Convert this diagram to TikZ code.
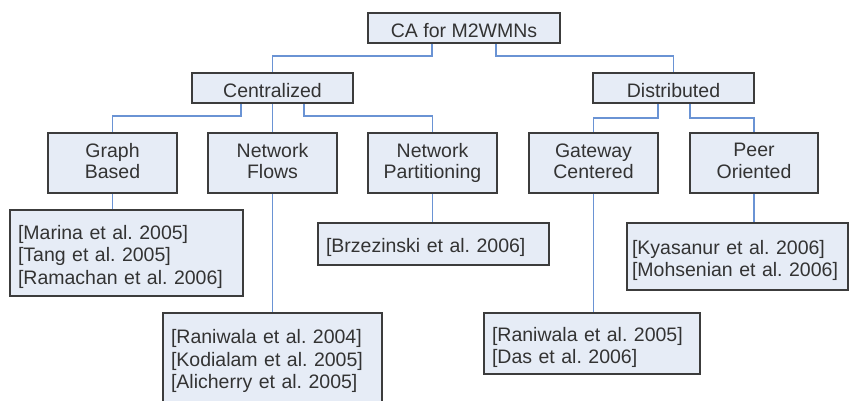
\documentclass[tikz,border=0pt]{standalone}
\usepackage{fontspec}
\setmainfont{Liberation Sans}
\frenchspacing
\definecolor{boxfill}{HTML}{E6ECF6}
\definecolor{boxline}{HTML}{3C3C3C}
\definecolor{linkblue}{HTML}{6A93D4}
\definecolor{txt}{HTML}{333333}
% struts that set the vertical placement of text inside each box
\newcommand{\topstrut}{\rule{0pt}{22pt}}
\newcommand{\botstrut}{\rule[-4pt]{0pt}{4pt}}
\begin{document}
\begin{tikzpicture}[x=1pt,y=-1pt,
  box/.style={draw=boxline, line width=2pt, fill=boxfill, text=txt,
    inner sep=0pt, align=center,
    execute at begin node={\topstrut}, execute at end node={\botstrut},
    font=\fontsize{19.5}{21.5}\selectfont\frenchspacing},
  refbox/.style={box, align=left, inner xsep=8pt,
    font=\fontsize{19.5}{22.5}\selectfont\frenchspacing},
  link/.style={draw=linkblue, line width=1.6pt}]
\useasboundingbox (0,0) rectangle (849,400);

% classification levels
\node[box, minimum width=192pt, minimum height=30pt] (root) at (464,28) {CA for M2WMNs};
\node[box, minimum width=161pt, minimum height=30pt] (cent) at (272.5,88) {Centralized};
\node[box, minimum width=161pt, minimum height=30pt] (dist) at (673.5,88) {Distributed};

\node[box, minimum width=129pt, minimum height=60pt] (gb) at (112.5,163) {Graph\\Based};
\node[box, minimum width=129pt, minimum height=60pt] (nf) at (272.5,163) {Network\\Flows};
\node[box, minimum width=129pt, minimum height=60pt] (np) at (432.5,163) {Network\\Partitioning};
\node[box, minimum width=129pt, minimum height=60pt] (gc) at (593.5,163) {Gateway\\Centered};
\node[box, minimum width=128pt, minimum height=60pt] (po) at (754,163) {Peer\\Oriented};

% reference lists
\node[refbox, text width=217pt, minimum height=86pt] (gbr) at (126.5,253)
  {[Marina et al. 2005]\\\relax[Tang et al. 2005]\\\relax[Ramachan et al. 2006]};
\node[refbox, text width=203pt, minimum height=89pt] (nfr) at (272.5,357.5)
  {[Raniwala et al. 2004]\\\relax[Kodialam et al. 2005]\\\relax[Alicherry et al. 2005]};
\node[refbox, text width=215pt, minimum height=42pt] (npr) at (433.5,244)
  {[Brzezinski et al. 2006]};
\node[refbox, text width=200pt, minimum height=61pt] (gcr) at (592,343.5)
  {[Raniwala et al. 2005]\\\relax[Das et al. 2006]};
\node[refbox, inner xsep=5pt, text width=211pt, minimum height=67pt] (por) at (737.5,256.5)
  {[Kyasanur et al. 2006]\\\relax[Mohsenian et al. 2006]};

% tree connectors
\draw[link] (root.south) ++(-32,0) -- ++(0,12) -| (cent.north);
\draw[link] (root.south) ++(32,0) -- ++(0,12) -| (dist.north);
\draw[link] (cent.south) ++(-31.5,0) -- ++(0,12) -| (gb.north);
\draw[link] (cent.south) -- (nf.north);
\draw[link] (cent.south) ++(31.5,0) -- ++(0,12) -| (np.north);
\draw[link] (dist.south) ++(-15.5,0) -- ++(0,14) -| (gc.north);
\draw[link] (dist.south) ++(16.5,0) -- ++(0,14) -| (po.north);

\draw[link] (gb.south) -- (gb.south |- gbr.north);
\draw[link] (nf.south) -- (nf.south |- nfr.north);
\draw[link] (np.south) -- (np.south |- npr.north);
\draw[link] (gc.south) -- (gc.south |- gcr.north);
\draw[link] (po.south) -- (po.south |- por.north);
\end{tikzpicture}
\end{document}
